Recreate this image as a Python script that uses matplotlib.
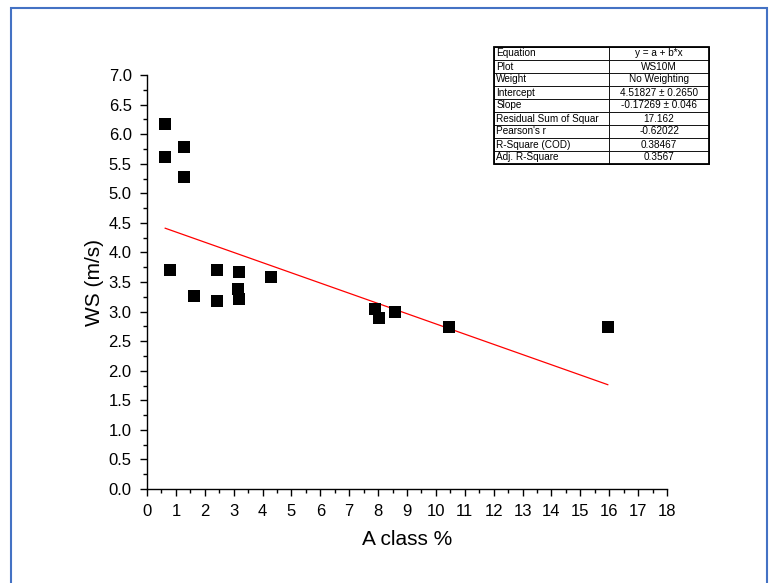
import numpy as np
import matplotlib
matplotlib.use("Agg")
import matplotlib.pyplot as plt
from matplotlib.patches import Rectangle
from matplotlib.ticker import MultipleLocator

plt.rcParams['font.family'] = ['Liberation Sans', 'DejaVu Sans']

# A class % vs wind speed at 10 m
a_class = [0.63, 0.63, 1.27, 1.27, 0.79, 1.61, 2.41, 2.41, 3.18, 3.14, 3.18,
           4.28, 7.88, 8.04, 8.60, 10.45, 15.95]
ws = [6.17, 5.62, 5.78, 5.28, 3.70, 3.27, 3.70, 3.18, 3.67, 3.39, 3.21,
      3.58, 3.04, 2.89, 2.99, 2.74, 2.74]

intercept = 4.51827
slope = -0.17269

table_labels = ['Equation', 'Plot', 'Weight', 'Intercept', 'Slope',
                'Residual Sum of Squar', "Pearson's r", 'R-Square (COD)',
                'Adj. R-Square']
table_values = ['y = a + b*x', 'WS10M', 'No Weighting',
                '4.51827 \u00b1 0.2650', '-0.17269 \u00b1 0.046', '17.162',
                '-0.62022', '0.38467', '0.3567']

fig = plt.figure(figsize=(7.69, 5.83), dpi=100)

# blue frame around the whole chart
fig.patches.append(Rectangle((11 / 769, -0.05), 756 / 769, 1.05 - 8 / 583,
                             transform=fig.transFigure, fill=False,
                             edgecolor='#4472C4', linewidth=1.5))

ax = fig.add_axes([147 / 769, 94 / 583, 520 / 769, 414 / 583])

ax.scatter(a_class, ws, marker='s', s=70, color='black', zorder=3, linewidths=0)

xfit = np.array([min(a_class), max(a_class)])
ax.plot(xfit, intercept + slope * xfit, color='red', linewidth=0.9)

ax.set_xlim(0, 18)
ax.set_ylim(0, 7)
ax.xaxis.set_major_locator(MultipleLocator(1))
ax.xaxis.set_minor_locator(MultipleLocator(0.5))
ax.yaxis.set_major_locator(MultipleLocator(0.5))
ax.yaxis.set_minor_locator(MultipleLocator(0.25))
ax.yaxis.set_major_formatter(plt.FormatStrFormatter('%.1f'))

ax.spines['top'].set_visible(False)
ax.spines['right'].set_visible(False)
for s in ['left', 'bottom']:
    ax.spines[s].set_linewidth(1.0)
ax.tick_params(which='major', direction='out', length=5, width=1,
               labelsize=12, pad=6)
ax.tick_params(which='minor', direction='out', length=3, width=1)

ax.set_xlabel('A class %', fontsize=15, labelpad=8)
ax.set_ylabel('WS (m/s)', fontsize=15, labelpad=3)

# fit results table
tab = ax.table(cellText=[[l, v] for l, v in zip(table_labels, table_values)],
               cellLoc='center', colWidths=[0.535, 0.465],
               bbox=[494 / 769, (583 - 164) / 583, 215 / 769, 117 / 583],
               transform=fig.transFigure)
tab.auto_set_font_size(False)
for (r, c), cell in tab.get_celld().items():
    cell.set_fontsize(7.2)
    cell.set_linewidth(0.6)
    if c == 0:
        cell.set_text_props(ha='left')
        cell.PAD = 0.02
fig.patches.append(Rectangle((494 / 769, (583 - 164) / 583), 215 / 769, 117 / 583,
                             transform=fig.transFigure, fill=False,
                             edgecolor='black', linewidth=1.3, zorder=5))

fig.savefig('out.png', dpi=100)
